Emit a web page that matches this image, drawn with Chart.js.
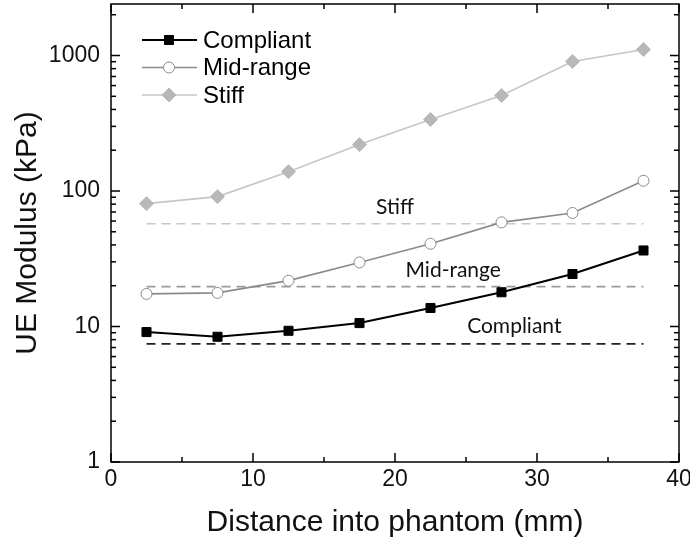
<!DOCTYPE html>
<html>
<head>
<meta charset="utf-8">
<script src="https://cdn.jsdelivr.net/npm/chart.js@4"></script>
<style>
  html, body { margin: 0; padding: 0; background: #fff; }
</style>
</head>
<body>
<canvas id="myChart" width="690" height="546"></canvas>
<script>
// depth of each measurement (mm) and UE modulus (kPa) per phantom
const depthMm = [2.5, 7.5, 12.5, 17.5, 22.5, 27.5, 32.5, 37.5];
const compliant = [9.1, 8.4, 9.3, 10.6, 13.7, 17.9, 24.4, 36.4];
const midRange = [17.4, 17.7, 21.8, 29.7, 40.8, 58.7, 68.9, 119];
const stiff = [80.7, 90.9, 139, 220, 337, 507, 904, 1109];

// nominal moduli, drawn as dashed lines across the sampled depths
const refSpan = [2.5, 37.5];
const refCompliant = 7.45;
const refMidRange = 19.7;
const refStiff = 57.4;

// text placed next to each dashed line (x in mm, y in kPa)
const refLabels = ["Stiff", "Mid-range", "Compliant"];
const refLabelX = [20.0, 24.1, 28.4];
const refLabelY = [75.4, 26.2, 10.1];

const xMajor = [0, 10, 20, 30, 40];
const xMinor = [5, 15, 25, 35];
const yMajor = [1, 10, 100, 1000];
const yMax = 2400;

const axisFont = "'Liberation Sans', Arial, sans-serif";

function pts(ys) {
  return ys.map((v, i) => ({ x: depthMm[i], y: v }));
}
function flat(v) {
  return refSpan.map(x => ({ x, y: v }));
}

function drawMarker(ctx, ds, x, y) {
  const r = ds.pointRadius;
  ctx.save();
  ctx.fillStyle = ds.pointBackgroundColor;
  ctx.strokeStyle = ds.pointBorderColor;
  ctx.lineWidth = ds.pointBorderWidth;
  ctx.beginPath();
  if (ds.pointStyle === "rect") {
    const s = r * Math.SQRT1_2;
    ctx.rect(x - s, y - s, 2 * s, 2 * s);
  } else if (ds.pointStyle === "rectRot") {
    ctx.moveTo(x, y - r);
    ctx.lineTo(x + r, y);
    ctx.lineTo(x, y + r);
    ctx.lineTo(x - r, y);
    ctx.closePath();
  } else {
    ctx.arc(x, y, r, 0, Math.PI * 2);
  }
  ctx.fill();
  ctx.stroke();
  ctx.restore();
}

// box frame with inward ticks on all four sides, legend and line labels
const decorations = {
  id: "decorations",
  afterDatasetsDraw(chart) {
    const { ctx, chartArea: a, scales: { x, y } } = chart;
    ctx.save();

    // labels on the reference lines
    ctx.font = "21px Lato, 'Open Sans', sans-serif";
    ctx.fillStyle = "#111";
    ctx.textAlign = "center";
    ctx.textBaseline = "middle";
    refLabels.forEach((t, i) => {
      ctx.fillText(t, x.getPixelForValue(refLabelX[i]), y.getPixelForValue(refLabelY[i]));
    });

    ctx.strokeStyle = "#000";
    ctx.lineWidth = 1.5;
    ctx.strokeRect(a.left, a.top, a.right - a.left, a.bottom - a.top);

    const tick = (x1, y1, x2, y2) => {
      ctx.beginPath();
      ctx.moveTo(x1, y1);
      ctx.lineTo(x2, y2);
      ctx.stroke();
    };
    xMajor.forEach(v => {
      const px = x.getPixelForValue(v);
      tick(px, a.bottom, px, a.bottom - 9);
      tick(px, a.top, px, a.top + 9);
    });
    xMinor.forEach(v => {
      const px = x.getPixelForValue(v);
      tick(px, a.bottom, px, a.bottom - 5);
      tick(px, a.top, px, a.top + 5);
    });
    for (let d = 1; d <= 1000; d *= 10) {
      for (let m = 1; m <= 9; m++) {
        const v = d * m;
        if (v > yMax) break;
        const py = y.getPixelForValue(v);
        const len = m === 1 ? 9 : 5;
        tick(a.left, py, a.left + len, py);
        tick(a.right, py, a.right - len, py);
      }
    }

    // legend, top-left inside the plot
    const sets = chart.data.datasets.slice(0, 3);
    const lx = a.left + 31;
    sets.forEach((ds, i) => {
      const ly = a.top + 36 + i * 27.5;
      ctx.strokeStyle = ds.borderColor;
      ctx.lineWidth = ds.borderWidth;
      tick(lx, ly, lx + 55, ly);
      drawMarker(ctx, ds, lx + 27, ly);
      ctx.fillStyle = "#000";
      ctx.font = "24px " + axisFont;
      ctx.textAlign = "left";
      ctx.textBaseline = "middle";
      ctx.fillText(ds.label, lx + 61, ly + 1);
    });

    ctx.restore();
  }
};

const dashed = (data, color) => ({
  label: "",
  data,
  borderColor: color,
  borderWidth: 1.6,
  borderDash: [9, 6],
  pointRadius: 0,
  fill: false
});

new Chart(document.getElementById("myChart"), {
  type: "line",
  data: {
    datasets: [
      {
        label: "Compliant",
        data: pts(compliant),
        borderColor: "#000",
        borderWidth: 2,
        pointStyle: "rect",
        pointRadius: 6.4,
        pointBackgroundColor: "#000",
        pointBorderColor: "#000",
        pointBorderWidth: 1
      },
      {
        label: "Mid-range",
        data: pts(midRange),
        borderColor: "#8a8a8a",
        borderWidth: 1.6,
        pointStyle: "circle",
        pointRadius: 5.5,
        pointBackgroundColor: "#fff",
        pointBorderColor: "#8a8a8a",
        pointBorderWidth: 1
      },
      {
        label: "Stiff",
        data: pts(stiff),
        borderColor: "#c6c6c6",
        borderWidth: 1.6,
        pointStyle: "rectRot",
        pointRadius: 7,
        pointBackgroundColor: "#b8b8b8",
        pointBorderColor: "#b8b8b8",
        pointBorderWidth: 1
      },
      dashed(flat(refCompliant), "#222"),
      dashed(flat(refMidRange), "#9a9a9a"),
      dashed(flat(refStiff), "#c8c8c8")
    ]
  },
  options: {
    responsive: false,
    animation: false,
    layout: {
      autoPadding: false,
      padding: { top: 4, right: 11, left: 0, bottom: 0 }
    },
    plugins: {
      legend: { display: false },
      tooltip: { enabled: false }
    },
    scales: {
      x: {
        type: "linear",
        min: 0,
        max: 40,
        grid: { display: false, drawTicks: false },
        border: { display: false },
        afterBuildTicks: s => { s.ticks = xMajor.map(v => ({ value: v })); },
        afterFit: s => { s.height = 84; s.paddingLeft = 0; s.paddingRight = 0; },
        ticks: {
          padding: 4,
          color: "#111",
          font: { family: axisFont, size: 23 },
          maxRotation: 0
        },
        title: {
          display: true,
          text: "Distance into phantom (mm)",
          color: "#111",
          font: { family: axisFont, size: 30 },
          padding: { top: 0, bottom: 5 }
        }
      },
      y: {
        type: "logarithmic",
        min: 1,
        max: yMax,
        grid: { display: false, drawTicks: false },
        border: { display: false },
        afterBuildTicks: s => { s.ticks = yMajor.map(v => ({ value: v })); },
        afterFit: s => { s.width = 111; s.paddingTop = 0; s.paddingBottom = 0; },
        ticks: {
          padding: 11,
          autoSkip: false,
          color: "#111",
          font: { family: axisFont, size: 23 },
          callback: v => String(v)
        },
        title: {
          display: true,
          text: "UE Modulus (kPa)",
          color: "#111",
          font: { family: axisFont, size: 30 },
          padding: { top: 10, bottom: 0 }
        }
      }
    }
  },
  plugins: [decorations]
});
</script>
</body>
</html>
